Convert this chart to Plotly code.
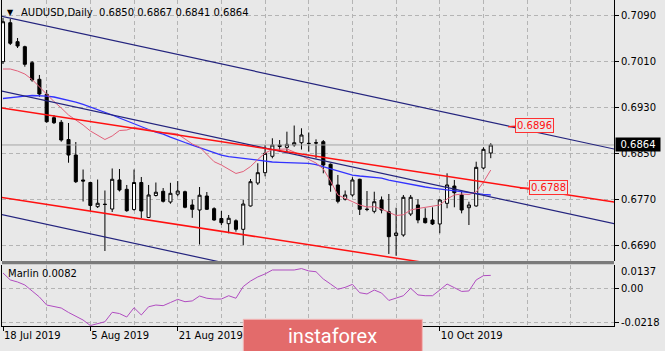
import plotly.graph_objects as go

# ---------------- data ----------------
bars = list(range(68))  # daily bars, 18 Jul 2019 .. 21 Oct 2019

opens = [0.70088, 0.70766, 0.70436, 0.70349, 0.70070, 0.69782, 0.69521, 0.69114, 0.69034, 0.68735,
         0.68465, 0.68031, 0.67987, 0.67567, 0.67610, 0.67526, 0.68031, 0.67869, 0.67518, 0.67987,
         0.67379, 0.67761, 0.67834, 0.67648, 0.67784, 0.67827, 0.67596, 0.67509, 0.67752, 0.67532,
         0.67361, 0.67271, 0.67322, 0.67173, 0.67579, 0.67978, 0.68158, 0.68443, 0.68639, 0.68599,
         0.68639, 0.68679, 0.68669, 0.68679, 0.68697, 0.68304, 0.67944, 0.67695, 0.67770, 0.68043,
         0.67523, 0.67486, 0.67683, 0.67479, 0.67065, 0.67074, 0.67439, 0.67596, 0.67365, 0.67335,
         0.67266, 0.67625, 0.67926, 0.67770, 0.67549, 0.67579, 0.68239, 0.68500]
highs = [0.70848, 0.70830, 0.70500, 0.70366, 0.70100, 0.69857, 0.69596, 0.69161, 0.69074, 0.69022,
         0.68691, 0.68213, 0.68001, 0.68039, 0.67848, 0.68231, 0.68222, 0.67944, 0.68213, 0.68083,
         0.67944, 0.67987, 0.67891, 0.67982, 0.68013, 0.67845, 0.67688, 0.67909, 0.67822, 0.67556,
         0.67492, 0.67422, 0.67347, 0.67683, 0.68048, 0.68322, 0.68639, 0.68756, 0.68726, 0.68871,
         0.68978, 0.68930, 0.68857, 0.68738, 0.68726, 0.68318, 0.68118, 0.67848, 0.68078, 0.68053,
         0.67839, 0.67827, 0.67744, 0.67787, 0.67549, 0.67770, 0.67770, 0.67695, 0.67539, 0.67556,
         0.67700, 0.68147, 0.68031, 0.67857, 0.67653, 0.68349, 0.68599, 0.68670]
lows = [0.70048, 0.70378, 0.70326, 0.70001, 0.69740, 0.69479, 0.69027, 0.69004, 0.68697, 0.68331,
        0.67978, 0.67657, 0.67492, 0.67544, 0.66796, 0.67474, 0.67831, 0.67479, 0.67497, 0.67370,
        0.67369, 0.67744, 0.67639, 0.67618, 0.67749, 0.67539, 0.67373, 0.66909, 0.67509, 0.67323,
        0.67248, 0.67104, 0.67132, 0.66900, 0.67570, 0.67944, 0.68095, 0.68408, 0.68523, 0.68495,
        0.68610, 0.68561, 0.68523, 0.68408, 0.68147, 0.67827, 0.67625, 0.67674, 0.67740, 0.67422,
        0.67488, 0.67451, 0.67451, 0.66744, 0.66714, 0.67045, 0.67405, 0.67278, 0.67274, 0.67248,
        0.67104, 0.67539, 0.67556, 0.67451, 0.67248, 0.67567, 0.68217, 0.68410]
closes = [0.70783, 0.70408, 0.70361, 0.70043, 0.69770, 0.69526, 0.69044, 0.69027, 0.68726, 0.68465,
          0.68001, 0.68013, 0.67587, 0.67626, 0.67605, 0.68043, 0.67857, 0.67497, 0.67987, 0.67492,
          0.67770, 0.67818, 0.67660, 0.67799, 0.67839, 0.67556, 0.67521, 0.67766, 0.67521, 0.67335,
          0.67288, 0.67365, 0.67173, 0.67613, 0.68001, 0.68158, 0.68495, 0.68639, 0.68613, 0.68651,
          0.68679, 0.68813, 0.68665, 0.68674, 0.68291, 0.67944, 0.67660, 0.67770, 0.68031, 0.67521,
          0.67519, 0.67653, 0.67509, 0.67045, 0.67109, 0.67730, 0.67730, 0.67335, 0.67288, 0.67266,
          0.67683, 0.67944, 0.67810, 0.67509, 0.67596, 0.68251, 0.68564, 0.68640]

ma_fast = [0.69961, 0.69961, 0.69926, 0.69874, 0.69778, 0.69648, 0.69509, 0.69396, 0.69283, 0.69161,
           0.69074, 0.68987, 0.68883, 0.68804, 0.68735, 0.68796, 0.68891, 0.68900, 0.68944, 0.68926,
           0.68900, 0.68874, 0.68853, 0.68848, 0.68830, 0.68744, 0.68657, 0.68604, 0.68483, 0.68349,
           0.68291, 0.68213, 0.68144, 0.68178, 0.68265, 0.68387, 0.68500, 0.68561, 0.68561, 0.68570,
           0.68517, 0.68457, 0.68387, 0.68326, 0.68222, 0.68013, 0.67770, 0.67709, 0.67657, 0.67596,
           0.67561, 0.67566, 0.67526, 0.67465, 0.67413, 0.67427, 0.67509, 0.67535, 0.67552, 0.67570,
           0.67596, 0.67700, 0.67770, 0.67787, 0.67778, 0.67822, 0.67996, 0.68204]
ma_slow = [0.69448, 0.69465, 0.69474, 0.69491, 0.69500, 0.69500, 0.69491, 0.69474, 0.69448, 0.69422,
           0.69387, 0.69344, 0.69300, 0.69248, 0.69204, 0.69161, 0.69109, 0.69057, 0.69004, 0.68952,
           0.68909, 0.68865, 0.68830, 0.68778, 0.68726, 0.68683, 0.68639, 0.68596, 0.68552, 0.68509,
           0.68465, 0.68439, 0.68422, 0.68404, 0.68387, 0.68370, 0.68352, 0.68344, 0.68338, 0.68335,
           0.68331, 0.68326, 0.68321, 0.68300, 0.68265, 0.68222, 0.68187, 0.68152, 0.68117, 0.68100,
           0.68091, 0.68083, 0.68065, 0.68030, 0.68004, 0.67978, 0.67952, 0.67926, 0.67909, 0.67891,
           0.67874, 0.67857, 0.67839, 0.67822, 0.67810, 0.67796, 0.67782, 0.67770]

marlin = [0.0097, 0.0053, 0.0040, 0.0021, -0.0017, -0.0055, -0.0106, -0.0115, -0.0125, -0.0153,
          -0.0179, -0.0201, -0.0236, -0.0223, -0.0212, -0.0152, -0.0160, -0.0182, -0.0123, -0.0169,
          -0.0117, -0.0106, -0.0110, -0.0090, -0.0070, -0.0085, -0.0080, -0.0049, -0.0063, -0.0068,
          -0.0068, -0.0047, -0.0063, 0.0011, 0.0046, 0.0072, 0.0091, 0.0116, 0.0116, 0.0116,
          0.0116, 0.0125, 0.0110, 0.0105, 0.0059, 0.0027, -0.0006, 0.0006, 0.0025, -0.0028,
          -0.0036, -0.0011, -0.0030, -0.0077, -0.0063, -0.0047, 0.0000, -0.0042, -0.0047, -0.0047,
          -0.0011, 0.0027, 0.0004, -0.0020, -0.0017, 0.0053, 0.0080, 0.0082]

# trend lines: two anchor points each (bar index, price)
navy_upper = [(0, 0.70871), (84, 0.68568)]
navy_mid = [(0, 0.69572), (84, 0.67269)]
navy_low = [(0, 0.67423), (84, 0.65119)]
red_upper = [(0, 0.69280), (84, 0.67646)]
red_lower = [(0, 0.67722), (84, 0.66088)]

# price labels placed on the lines (text, bar index, price)
level_labels = [("0.6896", 69.4, 0.68957), ("0.6788", 71.0, 0.67886)]

price_ticks = [0.6690, 0.6770, 0.6850, 0.6930, 0.7010, 0.7090]
marlin_ticks = [0.0, -0.0218]
marlin_tick_text = ["0.00", "-0.0218"]
marlin_top_label = "0.0137"
grid_step = 6
date_ticks = [0, 12, 24, 60]
date_labels = ["18 Jul 2019", "5 Aug 2019", "21 Aug 2019", "10 Oct 2019"]
symbol = "AUDUSD,Daily"
indicator_name = "Marlin"

# ---------------- styling / geometry ----------------
W, H = 665, 351
L, R, T, B = 2, 51, 0, 25
PW, PH = W - L - R, H - T - B
BG = "#e8e8e8"
GRID = "#b4b4b4"
DASH = "4px,3px"
FONT = "DejaVu Sans"


def X(px):
    return (px - L) / PW


def Y(py):
    return (PH - (py - T)) / PH


XR = [-0.137, 83.93]
YR_MAIN = [0.66622, 0.71161]
YR_SUB = [-0.02389, 0.01508]

fig = go.Figure()

# current price line
fig.add_trace(go.Scatter(x=[-2, 90], y=[closes[-1], closes[-1]], mode="lines",
                         line=dict(color="#a6a6a6", width=1), hoverinfo="skip",
                         xaxis="x", yaxis="y"))

fig.add_trace(go.Candlestick(
    x=bars, open=opens, high=highs, low=lows, close=closes,
    increasing=dict(line=dict(color="black", width=1), fillcolor="white"),
    decreasing=dict(line=dict(color="black", width=1), fillcolor="black"),
    whiskerwidth=0, hoverinfo="skip", xaxis="x", yaxis="y"))


def add_trend(pts, color, width):
    (x0, p0), (x1, p1) = pts
    xs = [-2, 90]
    ys = [p0 + (p1 - p0) * (xx - x0) / (x1 - x0) for xx in xs]
    fig.add_trace(go.Scatter(x=xs, y=ys, mode="lines", line=dict(color=color, width=width),
                             hoverinfo="skip", xaxis="x", yaxis="y"))


fig.add_trace(go.Scatter(x=bars, y=ma_slow, mode="lines", line=dict(color="#3232ff", width=1.3),
                         hoverinfo="skip", xaxis="x", yaxis="y"))
fig.add_trace(go.Scatter(x=bars, y=ma_fast, mode="lines", line=dict(color="#e2607a", width=1),
                         hoverinfo="skip", xaxis="x", yaxis="y"))

for pts in (navy_upper, navy_mid, navy_low):
    add_trend(pts, "#24247e", 1.2)
for pts in (red_upper, red_lower):
    add_trend(pts, "#ff1010", 1.5)

fig.add_trace(go.Scatter(x=bars, y=marlin, mode="lines", line=dict(color="#b04cc0", width=1),
                         hoverinfo="skip", xaxis="x2", yaxis="y2"))

gridcommon = dict(showgrid=True, gridcolor=GRID, griddash=DASH, gridwidth=1, zeroline=False)

fig.update_layout(
    width=W, height=H,
    margin=dict(l=L, r=R, t=T, b=B, pad=0, autoexpand=False),
    paper_bgcolor=BG, plot_bgcolor=BG, showlegend=False, boxgap=0.4,
    font=dict(family=FONT, size=10, color="black"),
    xaxis=dict(domain=[0, 1], anchor="y", range=XR, tickmode="array",
               tickvals=list(range(0, 90, grid_step)), showticklabels=False, ticks="",
               showline=False, rangeslider=dict(visible=False), **gridcommon),
    yaxis=dict(domain=[Y(261), 1], anchor="x", side="right", range=YR_MAIN, tickmode="array",
               tickvals=price_ticks, tickformat=".4f", ticks="outside", ticklen=4, tickcolor="black",
               showline=True, mirror=True, linecolor="black", linewidth=1, **gridcommon),
    xaxis2=dict(domain=[0, 1], anchor="y2", range=XR, tickmode="array", tickvals=date_ticks,
                ticktext=date_labels, ticks="outside", ticklen=4, tickcolor="black",
                ticklabelposition="outside right", showline=True, linecolor="black", linewidth=1,
                minor=dict(tickmode="linear", tick0=0, dtick=grid_step, showgrid=True,
                           gridcolor=GRID, griddash=DASH, ticks=""),
                **gridcommon),
    yaxis2=dict(domain=[0, Y(264.5)], anchor="x2", side="right", range=YR_SUB, tickmode="array",
                tickvals=marlin_ticks, ticktext=marlin_tick_text, ticks="outside", ticklen=4,
                tickcolor="black", showline=True, mirror=True, linecolor="black", linewidth=1,
                **gridcommon),
)

shapes = [
    # window separator
    dict(type="rect", xref="paper", yref="paper", x0=0, x1=1, y0=Y(264.3), y1=Y(261),
         fillcolor="#7a7a7a", line=dict(width=0), layer="above"),
    # logo plate
    dict(type="rect", xref="paper", yref="paper", x0=X(243.3), x1=X(422.3), y0=Y(356), y1=Y(319.3),
         fillcolor="#e36b6b", line=dict(color="#f2b8b8", width=1), layer="above"),
]
fig.update_layout(shapes=shapes)

ann = []
ann.append(dict(xref="paper", yref="paper", x=X(10), y=Y(12), text="▼", showarrow=False,
                font=dict(size=8, color="black"), xanchor="center", yanchor="middle"))
ann.append(dict(xref="paper", yref="paper", x=X(19), y=Y(12),
                text=f"{symbol}  {opens[-1]:.4f} {highs[-1]:.4f} {lows[-1]:.4f} {closes[-1]:.4f}",
                showarrow=False, font=dict(size=10, color="black"), xanchor="left", yanchor="middle"))
ann.append(dict(xref="paper", yref="paper", x=X(6), y=Y(273),
                text=f"{indicator_name} {marlin[-1]:.4f}", showarrow=False,
                font=dict(size=10, color="black"), xanchor="left", yanchor="middle"))
ann.append(dict(xref="paper", yref="paper", x=1, xshift=5, y=Y(271.7), text=marlin_top_label,
                showarrow=False, font=dict(size=10, color="black"), xanchor="left", yanchor="middle"))
# current price box
ann.append(dict(xref="paper", yref="y", x=1, xshift=1, y=closes[-1], text=f"{closes[-1]:.4f}",
                showarrow=False, font=dict(size=10, color="white"), bgcolor="black",
                xanchor="left", yanchor="middle", width=42, height=11, borderpad=1))
# level labels
offsets = [(26.5, -1.4), (28.3, -0.5)]
for (txt, bx, bp), (axo, ayo) in zip(level_labels, offsets):
    ann.append(dict(xref="x", yref="y", x=bx, y=bp, text=txt, showarrow=True, arrowhead=0,
                    arrowwidth=1.5, arrowcolor="#ff2020", ax=axo, ay=ayo,
                    font=dict(size=10, color="#ff1010"), bgcolor=BG, bordercolor="#ff3030",
                    borderwidth=1, borderpad=1))
# logo text
ann.append(dict(xref="paper", yref="paper", x=X(332.8), y=Y(335.5), text="instaforex",
                showarrow=False, font=dict(family="Roboto", size=20, color="white"),
                xanchor="center", yanchor="middle"))
fig.update_layout(annotations=ann)

fig.write_html("out.html")
